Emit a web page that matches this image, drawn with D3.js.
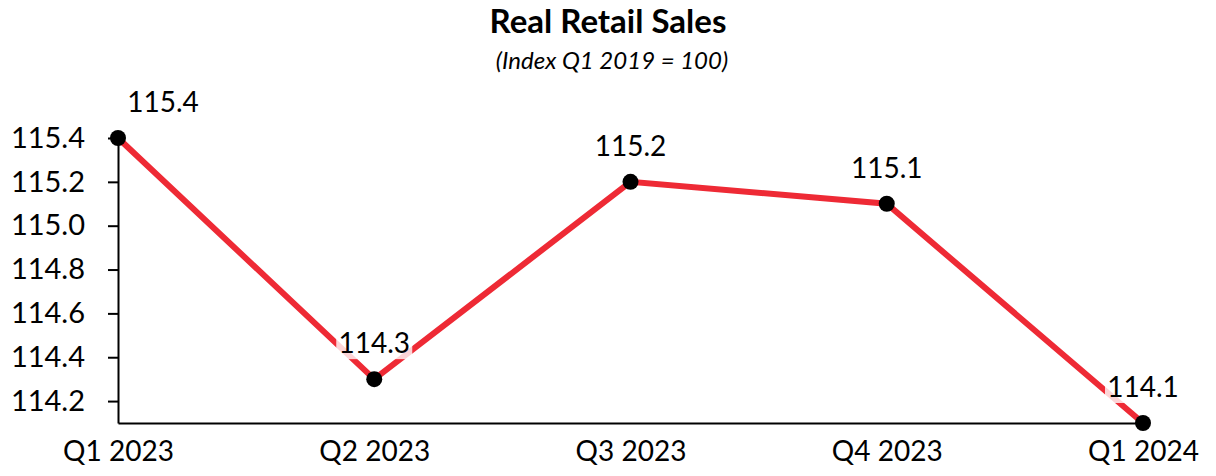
<!DOCTYPE html>
<html>
<head>
<meta charset="utf-8">
<script src="https://cdn.jsdelivr.net/npm/d3@7"></script>
<style>
  body { margin: 0; background: #fff; }
  text { font-family: Lato, "Open Sans", sans-serif; fill: #000; }
</style>
</head>
<body>
<div id="container"></div>
<script>
const quarters = ["Q1 2023", "Q2 2023", "Q3 2023", "Q4 2023", "Q1 2024"];
const sales = [115.4, 114.3, 115.2, 115.1, 114.1];
const yTicks = [114.2, 114.4, 114.6, 114.8, 115.0, 115.2, 115.4];

const w = 1216;
const h = 476;

const data = quarters.map((q, i) => ({ q, v: sales[i] }));

const svg = d3.select("#container")
  .append("svg")
  .attr("width", w)
  .attr("height", h);

const xScale = d3.scalePoint()
  .domain(quarters)
  .range([118, 1143]);

const yScale = d3.scaleLinear()
  .domain([114.1, 115.4])
  .range([423, 138]);

// title
svg.append("text")
  .attr("x", 608)
  .attr("y", 33)
  .attr("text-anchor", "middle")
  .attr("font-size", 33)
  .attr("font-weight", "bold")
  .text("Real Retail Sales");

svg.append("text")
  .attr("x", 612)
  .attr("y", 69)
  .attr("text-anchor", "middle")
  .attr("font-size", 24)
  .attr("font-style", "italic")
  .text("(Index Q1 2019 = 100)");

// y axis
const yAxis = svg.append("g")
  .attr("transform", "translate(118,0)")
  .call(d3.axisLeft(yScale).tickValues(yTicks).tickFormat(d3.format(".1f")).tickSize(10).tickSizeOuter(0).tickPadding(23));
yAxis.select(".domain").attr("stroke", "#000").attr("stroke-width", 2);
yAxis.selectAll(".tick line").attr("stroke", "#000").attr("stroke-width", 2);
yAxis.selectAll(".tick text").attr("font-size", 29).attr("font-family", "Lato, sans-serif").attr("fill", "#000");

// x axis
const xAxis = svg.append("g")
  .attr("transform", "translate(0,423)")
  .call(d3.axisBottom(xScale).tickSize(0).tickPadding(18));
xAxis.select(".domain").attr("stroke", "#000").attr("stroke-width", 2);
xAxis.selectAll(".tick text").attr("font-size", 28).attr("font-family", "Lato, sans-serif").attr("fill", "#000");

// line
const line = d3.line()
  .x(d => xScale(d.q))
  .y(d => yScale(d.v));

svg.append("path")
  .datum(data)
  .attr("d", line)
  .attr("fill", "none")
  .attr("stroke", "#ee2a35")
  .attr("stroke-width", 6);

// labels with white box
const labels = svg.append("g")
  .selectAll("g")
  .data(data)
  .join("g")
  .attr("transform", (d, i) => `translate(${xScale(d.q) + (i === 0 ? 45 : 0)},${yScale(d.v) - 36})`);

labels.append("rect")
  .attr("x", -38)
  .attr("y", -18)
  .attr("width", 76)
  .attr("height", 34)
  .attr("fill", "#fff")
  .attr("opacity", 0.8);

labels.append("text")
  .attr("text-anchor", "middle")
  .attr("dy", "0.35em")
  .attr("font-size", 28)
  .text(d => d.v.toFixed(1));

// points
svg.append("g")
  .selectAll("circle")
  .data(data)
  .join("circle")
  .attr("cx", d => xScale(d.q))
  .attr("cy", d => yScale(d.v))
  .attr("r", 8)
  .attr("fill", "#000");
</script>
</body>
</html>
